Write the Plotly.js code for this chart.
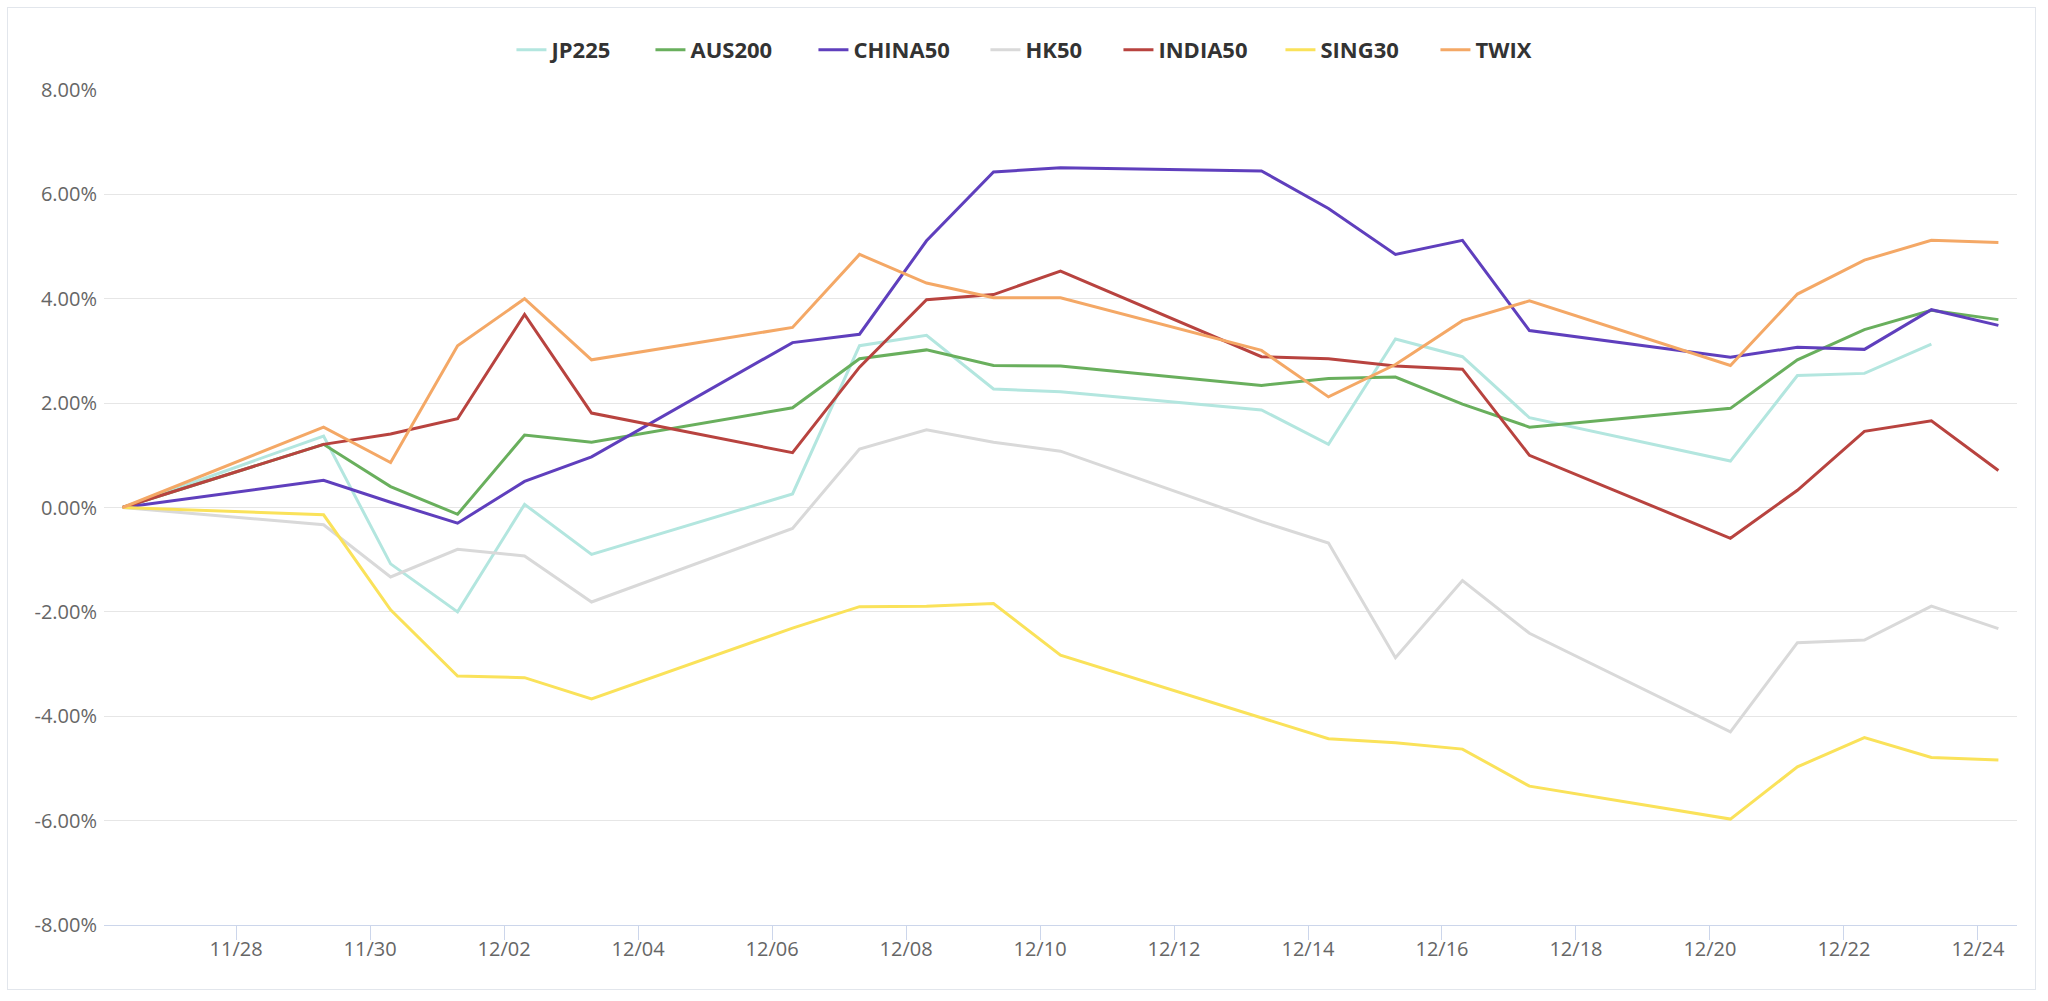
<!DOCTYPE html>
<html>
<head>
<meta charset="utf-8">
<script src="https://cdn.plot.ly/plotly-3.0.1.min.js"></script>
<style>
  html, body { margin: 0; padding: 0; background: #ffffff; }
  #wrap { position: relative; width: 2048px; height: 1001px; }
  #chart { position: absolute; left: 0; top: 0; width: 2048px; height: 1001px; }
  #frame { position: absolute; left: 7px; top: 7px; width: 2027px; height: 981px;
           border: 1px solid #e2e6ec; pointer-events: none; }
</style>
</head>
<body>
<div id="wrap">
  <div id="chart"></div>
  <div id="frame"></div>
</div>
<script>
// Trading days (points sit at ~07:20 of each day)
const dates = [
  "2021-11-26 07:20", "2021-11-29 07:20", "2021-11-30 07:20", "2021-12-01 07:20",
  "2021-12-02 07:20", "2021-12-03 07:20", "2021-12-06 07:20", "2021-12-07 07:20",
  "2021-12-08 07:20", "2021-12-09 07:20", "2021-12-10 07:20", "2021-12-13 07:20",
  "2021-12-14 07:20", "2021-12-15 07:20", "2021-12-16 07:20", "2021-12-17 07:20",
  "2021-12-20 07:20", "2021-12-21 07:20", "2021-12-22 07:20", "2021-12-23 07:20",
  "2021-12-24 07:20"
];

// Cumulative change, percent
const jp225   = [0, 1.37, -1.08, -2.00, 0.06, -0.90, 0.26, 3.10, 3.30, 2.27, 2.22, 1.87, 1.21, 3.23, 2.89, 1.72, 0.89, 2.53, 2.57, 3.13, null];
const aus200  = [0, 1.21, 0.40, -0.13, 1.39, 1.25, 1.91, 2.85, 3.02, 2.72, 2.71, 2.34, 2.47, 2.50, 1.98, 1.54, 1.90, 2.83, 3.41, 3.78, 3.60];
const china50 = [0, 0.52, 0.10, -0.30, 0.50, 0.97, 3.16, 3.32, 5.11, 6.43, 6.51, 6.45, 5.73, 4.85, 5.12, 3.39, 2.88, 3.07, 3.03, 3.79, 3.49];
const hk50    = [0, -0.33, -1.33, -0.80, -0.93, -1.81, -0.40, 1.12, 1.49, 1.25, 1.08, -0.27, -0.68, -2.88, -1.40, -2.41, -4.30, -2.59, -2.54, -1.89, -2.32];
const india50 = [0, 1.21, 1.41, 1.70, 3.70, 1.81, 1.05, 2.69, 3.98, 4.08, 4.53, 2.89, 2.85, 2.71, 2.65, 1.00, -0.59, 0.33, 1.46, 1.66, 0.71];
const sing30  = [0, -0.14, -1.96, -3.23, -3.26, -3.67, -2.31, -1.90, -1.89, -1.84, -2.83, -4.04, -4.43, -4.51, -4.63, -5.34, -5.97, -4.97, -4.41, -4.79, -4.84];
const twix    = [0, 1.54, 0.86, 3.10, 4.00, 2.83, 3.45, 4.85, 4.30, 4.02, 4.02, 3.01, 2.12, 2.74, 3.58, 3.96, 2.72, 4.09, 4.74, 5.12, 5.08];

const seriesNames = ["JP225", "AUS200", "CHINA50", "HK50", "INDIA50", "SING30", "TWIX"];
const seriesData  = [jp225, aus200, china50, hk50, india50, sing30, twix];

// Y tick values and labels
const yTickVals   = [-8, -6, -4, -2, 0, 2, 4, 6, 8];
const yTickLabels = ["-8.00%", "-6.00%", "-4.00%", "-2.00%", "0.00%", "2.00%", "4.00%", "6.00%", "8.00%"];

// Styling (kept apart from the data)
const seriesColors = ["#b3e6df", "#69af5d", "#5f3fbd", "#d9d9d9", "#b8433f", "#fae25a", "#f4a866"];
const legendWidths = [94, 118, 127, 88, 117, 110, 86];

const traces = seriesNames.map((name, i) => ({
  type: "scatter",
  mode: "lines",
  name: name,
  x: dates,
  y: seriesData[i],
  connectgaps: false,
  legendwidth: legendWidths[i],
  line: { color: seriesColors[i], width: 3 },
  hovertemplate: "%{x|%m/%d}: %{y:.2f}%<extra>" + name + "</extra>"
}));

const layout = {
  width: 2048,
  height: 1001,
  paper_bgcolor: "#ffffff",
  plot_bgcolor: "#ffffff",
  margin: { l: 104, r: 31, t: 90, b: 76, pad: 0 },
  showlegend: true,
  legend: {
    orientation: "h",
    xref: "container",
    yref: "container",
    x: 0.5073,
    xanchor: "center",
    y: 1 - 50 / 1001,
    yanchor: "middle",
    font: { family: "Open Sans, sans-serif", size: 22, color: "#333333", weight: "bold" },
    bgcolor: "rgba(0,0,0,0)"
  },
  xaxis: {
    type: "date",
    range: ["2021-11-26 00:40", "2021-12-24 14:00"],
    tick0: "2021-11-28",
    dtick: 2 * 86400000,
    tickformat: "%m/%d",
    ticks: "outside",
    ticklen: 14,
    tickcolor: "#ccd6eb",
    tickwidth: 1,
    ticklabelstandoff: -8,
    showline: true,
    linecolor: "#ccd6eb",
    linewidth: 1,
    showgrid: false,
    zeroline: false,
    tickfont: { family: "Open Sans, sans-serif", size: 20, color: "#666666" }
  },
  yaxis: {
    range: [-8, 8],
    tickmode: "array",
    tickvals: yTickVals,
    ticktext: yTickLabels,
    showgrid: true,
    gridcolor: "#e6e6e6",
    gridwidth: 1,
    zeroline: false,
    showline: false,
    ticks: "",
    ticklabelstandoff: 6,
    tickfont: { family: "Open Sans, sans-serif", size: 20, color: "#666666" }
  }
};

Plotly.newPlot("chart", traces, layout, { displayModeBar: false, responsive: false });
</script>
</body>
</html>
